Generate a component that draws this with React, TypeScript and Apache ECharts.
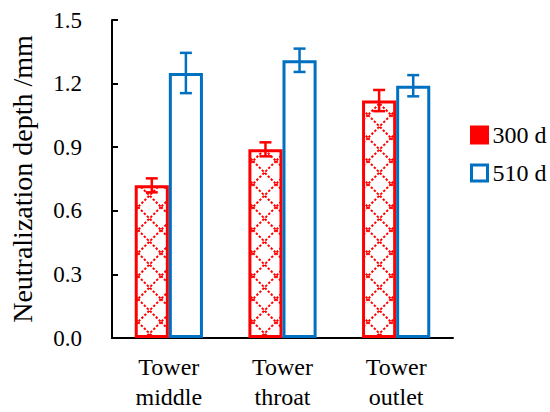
import React, { useEffect, useRef } from "react";
import * as echarts from "echarts";

const categories = ["Tower\nmiddle", "Tower\nthroat", "Tower\noutlet"];
const seriesNames = ["300 d", "510 d"];
const values300 = [0.72, 0.89, 1.12];
const errors300 = [0.033, 0.033, 0.05];
const values510 = [1.25, 1.31, 1.19];
const errors510 = [0.095, 0.055, 0.05];
const yTicks = { min: 0, max: 1.5, interval: 0.3 };

const RED = "#FF0000";
const BLUE = "#0070C0";
const FONT = "Liberation Serif";

function makeHatch(): HTMLCanvasElement {
  const c = document.createElement("canvas");
  const s = 23;
  c.width = s;
  c.height = s;
  const ctx = c.getContext("2d")!;
  ctx.fillStyle = "#ffffff";
  ctx.fillRect(0, 0, s, s);
  ctx.strokeStyle = RED;
  ctx.lineWidth = 2;
  ctx.setLineDash([2.4, 1.8]);
  ctx.beginPath();
  ctx.moveTo(0, 0);
  ctx.lineTo(s, s);
  ctx.moveTo(s, 0);
  ctx.lineTo(0, s);
  ctx.stroke();
  return c;
}

export default function App() {
  const ref = useRef<HTMLDivElement>(null);
  useEffect(() => {
    if (!ref.current) return;
    const chart = echarts.init(ref.current, undefined, { renderer: "svg" });
    const hatch = makeHatch();
    const errSeries = (vals: number[], errs: number[], idx: number, color: string) => ({
      type: "custom",
      name: "err" + idx,
      z: 5,
      encode: { x: 0, y: 1 },
      data: vals.map((v, i) => [i, v, errs[i]]),
      renderItem: (params: any, api: any) => {
        const cat = api.value(0);
        const val = api.value(1);
        const err = api.value(2);
        const band = api.size([1, 0])[0];
        const off = (idx === 0 ? -0.15 : 0.15) * band;
        const top = api.coord([cat, val + err]);
        const bot = api.coord([cat, val - err]);
        const x = top[0] + off;
        const cap = 6;
        const st = { stroke: color, lineWidth: 2.5 };
        return {
          type: "group",
          children: [
            { type: "line", shape: { x1: x, y1: top[1], x2: x, y2: bot[1] }, style: st },
            { type: "line", shape: { x1: x - cap, y1: top[1], x2: x + cap, y2: top[1] }, style: st },
            { type: "line", shape: { x1: x - cap, y1: bot[1], x2: x + cap, y2: bot[1] }, style: st },
          ],
        };
      },
    });
    chart.setOption({
      animation: false,
      textStyle: { fontFamily: FONT },
      grid: { left: 112, right: 97, top: 20, bottom: 74, containLabel: false },
      legend: {
        orient: "vertical",
        left: 465,
        top: 118,
        itemWidth: 16,
        itemHeight: 16,
        itemGap: 14,
        icon: "rect",
        textStyle: { fontFamily: FONT, fontSize: 24, color: "#000" },
        data: [
          { name: seriesNames[0], itemStyle: { color: RED, borderColor: RED, borderWidth: 3 } },
          { name: seriesNames[1], itemStyle: { color: "#fff", borderColor: BLUE, borderWidth: 3 } },
        ],
      },
      xAxis: {
        type: "category",
        data: categories,
        axisLine: { lineStyle: { color: "#000", width: 2 } },
        axisTick: { inside: true, length: 6, lineStyle: { color: "#000", width: 2 }, interval: 0 },
        axisLabel: {
          fontFamily: FONT,
          fontSize: 24,
          color: "#000",
          lineHeight: 30,
          margin: 14,
          interval: 0,
        },
      },
      yAxis: {
        type: "value",
        min: yTicks.min,
        max: yTicks.max,
        interval: yTicks.interval,
        name: "Neutralization depth /mm",
        nameLocation: "middle",
        nameGap: 76,
        nameTextStyle: { fontFamily: FONT, fontSize: 28, color: "#000" },
        axisLine: { show: true, lineStyle: { color: "#000", width: 2 } },
        axisTick: { show: true, inside: true, length: 6, lineStyle: { color: "#000", width: 2 } },
        splitLine: { show: false },
        axisLabel: {
          fontFamily: FONT,
          fontSize: 23,
          color: "#000",
          margin: 30,
          formatter: (v: number) => v.toFixed(1),
        },
      },
      series: [
        {
          type: "bar",
          name: seriesNames[0],
          data: values300,
          barGap: "0%",
          barCategoryGap: "40%",
          itemStyle: {
            color: { image: hatch, repeat: "repeat" },
            borderColor: RED,
            borderWidth: 3,
          },
        },
        {
          type: "bar",
          name: seriesNames[1],
          data: values510,
          barGap: "0%",
          barCategoryGap: "40%",
          itemStyle: { color: "#fff", borderColor: BLUE, borderWidth: 3 },
        },
        errSeries(values300, errors300, 0, RED),
        errSeries(values510, errors510, 1, BLUE),
      ],
    } as any);
    return () => chart.dispose();
  }, []);
  return (
    <>
      <style>{`svg text { font-family: "Liberation Serif", serif !important; }`}</style>
      <div
        ref={ref}
        style={{ position: "fixed", left: 0, top: 0, width: 550, height: 412, background: "#fff" }}
      />
    </>
  );
}
